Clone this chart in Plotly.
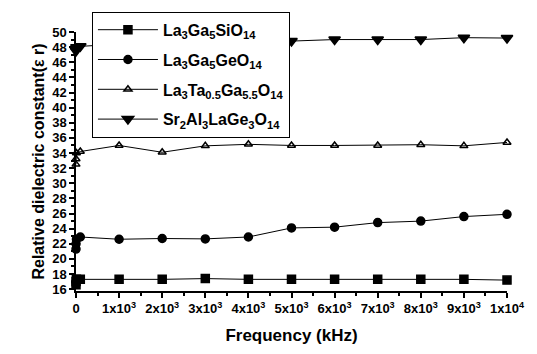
import plotly.graph_objects as go

freq = [0.1, 1, 10, 100, 1000, 2000, 3000, 4000, 5000, 6000, 7000, 8000, 9000, 10000]
la_si = [16.6, 17.0, 17.3, 17.3, 17.3, 17.3, 17.4, 17.3, 17.3, 17.3, 17.3, 17.3, 17.3, 17.2]
la_ge = [21.3, 22.0, 22.6, 22.9, 22.6, 22.7, 22.65, 22.9, 24.1, 24.2, 24.8, 25.0, 25.6, 25.9]
la_ta = [32.5, 33.2, 34.0, 34.2, 35.0, 34.1, 34.95, 35.15, 35.0, 35.0, 35.0, 35.1, 34.95, 35.4]
sr_al = [47.5, 47.8, 48.0, 48.1, 48.4, 48.5, 48.6, 48.7, 48.8, 49.0, 49.0, 49.0, 49.25, 49.2]

names = ["<b>La<sub>3</sub>Ga<sub>5</sub>SiO<sub>14</sub></b>",
         "<b>La<sub>3</sub>Ga<sub>5</sub>GeO<sub>14</sub></b>",
         "<b>La<sub>3</sub>Ta<sub>0.5</sub>Ga<sub>5.5</sub>O<sub>14</sub></b>",
         "<b>Sr<sub>2</sub>Al<sub>3</sub>LaGe<sub>3</sub>O<sub>14</sub></b>"]
symbols = ["square", "circle", "triangle-up-open", "triangle-down"]
sizes = [8, 8, 7, 10]
series = [la_si, la_ge, la_ta, sr_al]

xtick_vals = [0] + [i * 1000 for i in range(1, 11)]
xtick_text = ["<b>0</b>"] + [f"<b>{i}x10<sup>3</sup></b>" for i in range(1, 10)] + ["<b>1x10<sup>4</sup></b>"]
ytick_vals = list(range(16, 51, 2))
ytick_text = [f"<b>{v}</b>" for v in ytick_vals]

fig = go.Figure()
for i, (nm, ys) in enumerate(zip(names, series)):
    fig.add_trace(go.Scatter(
        x=freq, y=ys, name=nm, mode="lines+markers",
        line=dict(color="black", width=1),
        marker=dict(symbol=symbols[i], size=sizes[i], color="black",
                    line=dict(color="black", width=1.5)),
        cliponaxis=False, legendgroup=str(i)))

fig.update_layout(
    width=537, height=354,
    margin=dict(l=76, r=25, t=24, b=61),
    plot_bgcolor="white", paper_bgcolor="white",
    font=dict(family="Liberation Sans, Arial, sans-serif", color="black"),
    showlegend=True,
    legend=dict(x=0.037, y=1.078, xanchor="left", yanchor="top",
                bordercolor="black", borderwidth=1, bgcolor="white",
                font=dict(size=16, family="Liberation Sans, Arial, sans-serif"),
                tracegroupgap=6, itemwidth=60),
    xaxis=dict(range=[0, 10000], tickvals=xtick_vals, ticktext=xtick_text,
               showline=True, linecolor="black", linewidth=1.5,
               ticks="outside", ticklen=5, tickwidth=1.5, tickcolor="black",
               minor=dict(ticks="outside", ticklen=3, dtick=500, tickcolor="black"),
               showgrid=False, zeroline=False,
               tickfont=dict(size=13),
               title=dict(text="<b>Frequency (kHz)</b>", font=dict(size=17), standoff=14)),
    yaxis=dict(range=[15.76, 50], tickvals=ytick_vals, ticktext=ytick_text,
               showline=True, linecolor="black", linewidth=1.5,
               ticks="outside", ticklen=5, tickwidth=1.5, tickcolor="black",
               minor=dict(ticks="outside", ticklen=3, dtick=1, tickcolor="black"),
               showgrid=False, zeroline=False,
               tickfont=dict(size=13),
               title=dict(text="<b>Relative dielectric constant(\u03b5 r)</b>", font=dict(size=16), standoff=4)),
)
fig.write_html("out.html")
